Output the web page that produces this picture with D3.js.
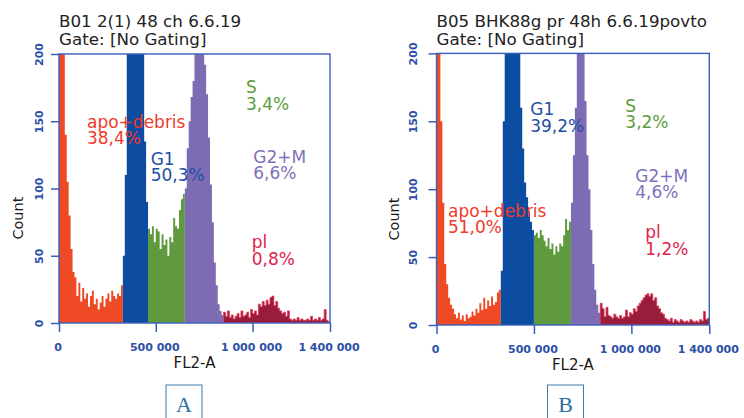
<!DOCTYPE html>
<html>
<head>
<meta charset="utf-8">
<script src="https://cdn.jsdelivr.net/npm/d3@7"></script>
<style>
  html, body { margin: 0; padding: 0; background: #fff; }
  svg { display: block; font-family: "DejaVu Sans", sans-serif; }
</style>
</head>
<body>
<svg id="chart" width="744" height="418"></svg>
<script>
/* Cell-cycle histograms (FL2-A), two samples side by side.
   Counts are per 10 000-wide channel, 0 .. 1 400 000. */

var binSize = 10000;
var xMax = 1400000;
var yMax = 200;
var xTicks = [0, 500000, 1000000, 1400000];
var yTicks = [0, 50, 100, 150, 200];
var xTitle = "FL2-A";
var yTitle = "Count";
var gateNames = ["apo+debris", "G1", "S", "G2+M", "pl"];

// sample A
var titleA = ["B01 2(1) 48 ch 6.6.19", "Gate: [No Gating]"];
var gatesA = [0, 330000, 455000, 645000, 847000, 1400000];
var percentsA = ["38,4%", "50,3%", "3,4%", "6,6%", "0,8%"];
var countsA = [
  230, 260, 205, 140, 105, 80, 55, 38,
  34, 20, 30, 16, 26, 18, 22, 12, 20, 24, 14, 18, 10, 15, 20, 12, 18, 22, 16, 24, 20, 18, 22, 20, 28,
  50, 110, 215, 260, 300, 300, 300, 300, 280, 240, 205, 135, 90,
  70, 66, 72, 60, 70, 68, 55, 66, 58, 62, 50, 64, 60, 78, 72, 70, 84, 92, 96,
  100, 130, 150, 168, 180, 240, 280, 280, 250, 215, 192, 170, 138, 103, 75, 45, 28, 14, 9, 6,
  8, 5, 9, 4, 6, 3, 5, 7, 4, 9, 5, 6, 8, 4, 10, 7, 9, 6, 14, 12, 16, 13, 17, 14, 19, 20, 13, 16, 11, 9,
  7, 8, 5, 9, 3, 2, 3, 2, 4, 2, 3, 2, 2, 3, 2, 5, 2, 3, 2, 4, 2, 3, 10, 2, 1
];

// sample B
var titleB = ["B05 BHK88g pr 48h 6.6.19povto", "Gate: [No Gating]"];
var gatesB = [0, 328000, 497000, 687000, 836000, 1400000];
var percentsB = ["51,0%", "39,2%", "3,2%", "4,6%", "1,2%"];
var countsB = [
  250, 260, 150, 90, 45, 30, 20, 15,
  12, 8, 5, 9, 4, 7, 3, 8, 5, 6, 10, 7, 12, 9, 16, 11, 20, 12, 18, 14, 21, 15, 17, 24, 26,
  40, 150, 230, 270, 300, 300, 300, 280, 250, 210, 160, 130, 105, 94, 84, 76, 70,
  66, 68, 64, 70, 66, 62, 58, 64, 56, 60, 52, 58, 54, 60, 58, 66, 78, 70, 76,
  90, 125, 160, 205, 240, 260, 220, 165, 125, 100, 70, 45, 26, 15, 9,
  16, 12, 6, 13, 7, 6, 5, 8, 6, 5, 7, 5, 6, 11, 6, 9, 8, 12, 10, 14,
  16, 18, 20, 22, 23, 21, 23, 18, 20, 14, 12, 9, 8, 5, 4, 3, 5, 2, 4, 3,
  2, 4, 3, 2, 3, 2, 4, 3, 2, 3, 2, 4, 3, 10, 4, 5
];

var fillColors = ["#ef4a26", "#0c4da2", "#5f9a3f", "#7d6cb3", "#9a1c3c"];
var textColors = ["#f03a2a", "#1d4fa3", "#5a9d3a", "#7f70bb", "#e2224e"];
var frameColor = "#3a5ebb";
var tickTextColor = "#2c4fa8";

var fmt = d3.formatLocale({ decimal: ",", thousands: " ", grouping: [3], currency: ["", ""] }).format(",d");
var svg = d3.select("#chart");

var panels = [
  {
    id: "a", counts: countsA, gates: gatesA, percents: percentsA, title: titleA, letter: "A",
    left: 59, right: 330, top: 54, bottom: 323, yLabelDx: -16, countDx: -36, boxCx: 184,
    labelAt: [[144600, 145], [473700, 117.5], [966000, 171], [1003800, 119], [995500, 55.5]]
  },
  {
    id: "b", counts: countsB, gates: gatesB, percents: percentsB, title: titleB, letter: "B",
    left: 436.5, right: 709.3, top: 53.4, bottom: 325, yLabelDx: -20, countDx: -38, boxCx: 565.5,
    labelAt: [[59000, 79.7], [481000, 154.6], [969000, 157], [1020000, 105.5], [1071600, 63.8]]
  }
];

function drawPanel(p) {
  var x = d3.scaleLinear().domain([0, xMax]).range([p.left, p.right]);
  var y = d3.scaleLinear().domain([0, yMax]).range([p.bottom, p.top]);

  svg.append("clipPath").attr("id", "clip-" + p.id)
    .append("rect").attr("x", p.left).attr("y", p.top)
    .attr("width", p.right - p.left).attr("height", p.bottom - p.top);

  var bins = p.counts.map(function (c, i) { return { x0: i * binSize, x1: (i + 1) * binSize, c: c }; });
  var area = d3.area().curve(d3.curveStepAfter)
    .x(function (d) { return x(d[0]); })
    .y0(y(0))
    .y1(function (d) { return y(d[1]); });

  var hist = svg.append("g").attr("clip-path", "url(#clip-" + p.id + ")");
  p.gates.slice(0, -1).forEach(function (lo, k) {
    var hi = p.gates[k + 1];
    var seg = bins.filter(function (b) { return b.x0 >= lo && b.x0 < hi; });
    var pts = seg.map(function (b) { return [b.x0, b.c]; });
    var last = seg[seg.length - 1];
    pts.push([last.x1, last.c]);
    var path = hist.append("path").attr("d", area(pts)).attr("fill", fillColors[k]);
    if (k === 4) path.attr("stroke", "#e63a55").attr("stroke-width", 0.8);
  });

  // frame
  svg.append("rect")
    .attr("x", p.left).attr("y", p.top)
    .attr("width", p.right - p.left).attr("height", p.bottom - p.top)
    .attr("fill", "none").attr("stroke", frameColor).attr("stroke-width", 1.4);

  // y axis
  var ya = svg.append("g").attr("transform", "translate(" + p.left + ",0)")
    .call(d3.axisLeft(y).tickValues(yTicks).tickSize(8).tickFormat(d3.format("d")));
  ya.select(".domain").remove();
  ya.selectAll("line").attr("stroke", frameColor).attr("stroke-width", 1.5);
  ya.selectAll("text")
    .attr("x", 0).attr("dy", 0)
    .attr("text-anchor", "middle")
    .attr("transform", "translate(" + p.yLabelDx + ",0) rotate(-90)")
    .attr("fill", tickTextColor)
    .style("font", "bold 11px 'DejaVu Sans'");

  // x axis
  var xa = svg.append("g").attr("transform", "translate(0," + p.bottom + ")")
    .call(d3.axisBottom(x).tickValues(xTicks).tickSize(9).tickFormat(fmt));
  xa.select(".domain").remove();
  xa.selectAll("line").attr("stroke", frameColor).attr("stroke-width", 1.5);
  xa.selectAll("text")
    .attr("y", 28).attr("dy", 0).attr("dx", -1.5)
    .attr("fill", tickTextColor)
    .style("font", "bold 11px 'DejaVu Sans'");

  // axis titles
  svg.append("text")
    .attr("x", (p.left + p.right) / 2).attr("y", p.bottom + 45)
    .attr("text-anchor", "middle").attr("fill", "#1a1a1a")
    .style("font-size", "15px").text(xTitle);
  svg.append("text")
    .attr("transform", "translate(" + (p.left + p.countDx) + "," + y(78) + ") rotate(-90)")
    .attr("text-anchor", "middle").attr("fill", "#1a1a1a")
    .style("font-size", "14.5px").text(yTitle);

  // header
  p.title.forEach(function (line, i) {
    svg.append("text")
      .attr("x", p.left).attr("y", 27 + i * 18)
      .attr("fill", "#222").style("font-size", "16.7px").text(line);
  });

  // gate labels
  gateNames.forEach(function (name, k) {
    var t = svg.append("text")
      .attr("x", x(p.labelAt[k][0])).attr("y", y(p.labelAt[k][1]))
      .attr("fill", textColors[k]).style("font-size", "17px");
    t.append("tspan").text(name);
    t.append("tspan").attr("x", x(p.labelAt[k][0])).attr("dy", 16.5).text(p.percents[k]);
  });

  // panel letter
  svg.append("rect")
    .attr("x", p.boxCx - 18).attr("y", 385).attr("width", 36).attr("height", 40)
    .attr("fill", "none").attr("stroke", "#3c7db0").attr("stroke-width", 1);
  svg.append("text")
    .attr("x", p.boxCx).attr("y", 411.5).attr("text-anchor", "middle")
    .attr("fill", "#2d6f9f")
    .style("font-family", "'Liberation Serif', serif").style("font-size", "22px")
    .text(p.letter);
}

panels.forEach(drawPanel);
</script>
</body>
</html>
